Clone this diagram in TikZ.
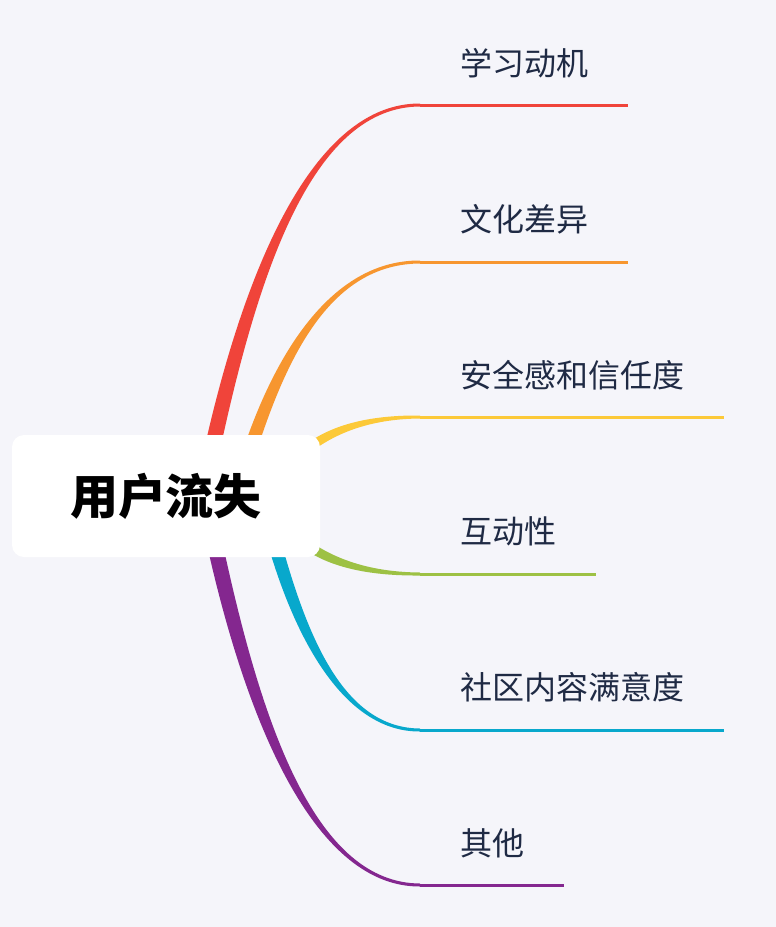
\documentclass[tikz,border=0pt]{standalone}
\usepackage{fontspec}
\setmainfont{Noto Sans CJK SC}
\definecolor{bg}{HTML}{F5F5FA}
\definecolor{txt}{HTML}{1F2A44}
\definecolor{cred}{HTML}{F0443A}
\definecolor{corange}{HTML}{F7962F}
\definecolor{cyellow}{HTML}{FCC938}
\definecolor{cgreen}{HTML}{9DC144}
\definecolor{cblue}{HTML}{08A8CC}
\definecolor{cpurple}{HTML}{84278F}
\tikzset{lbl/.style={anchor=west,font=\fontsize{32}{32}\selectfont,text=txt,inner sep=0}}
% color, x0, y0, y1, xend, ox, oy, name
\newcommand\mybranch[8]{%
 \pgfmathsetmacro\cax{#2+0.2*(420-#2)}%
 \pgfmathsetmacro\cay{#3+0.55*(#4-#3)}%
 \pgfmathsetmacro\cbx{#2+0.5*(420-#2)}%
 \fill[#1] (#2-#6,#3-#7) .. controls (\cax-#6*0.9,\cay-#7*0.9) and (\cbx,#4-2) .. (420,#4-1.5) -- (420,#4+1.5) .. controls (\cbx,#4+2) and (\cax+#6*0.9,\cay+#7*0.9) .. (#2+#6,#3+#7) -- cycle;
 \coordinate (#8a) at (420,#4);
 \coordinate (#8b) at (#5,#4);
 \draw[#1,line width=3] (#8a) -- (#8b);}
\begin{document}
\begin{tikzpicture}[x=1pt,y=-1pt]
\fill[bg] (0,0) rectangle (776,927);
\useasboundingbox (0,0) rectangle (776,927);
\mybranch{cred}{212}{450}{105}{628}{8}{0}{r}
\mybranch{corange}{250}{450}{262}{628}{7}{0}{o}
\mybranch{cyellow}{300}{455}{417}{724}{0}{6}{y}
\mybranch{cgreen}{300}{540}{574}{596}{0}{6}{g}
\mybranch{cblue}{275}{545}{730}{724}{-7}{0}{b}
\mybranch{cpurple}{215}{545}{885}{564}{-8}{0}{p}
\node[fill=white,rounded corners=12,minimum width=308,minimum height=122,inner sep=0,font=\fontsize{48}{48}\selectfont\bfseries] (c) at (166,496) {用户流失};
\node[lbl] (l1) at (460,63) {学习动机};
\node[lbl] (l2) at (460,219) {文化差异};
\node[lbl] (l3) at (460,375) {安全感和信任度};
\node[lbl] (l4) at (460,531) {互动性};
\node[lbl] (l5) at (460,687) {社区内容满意度};
\node[lbl] (l6) at (460,843) {其他};
\end{tikzpicture}
\end{document}
